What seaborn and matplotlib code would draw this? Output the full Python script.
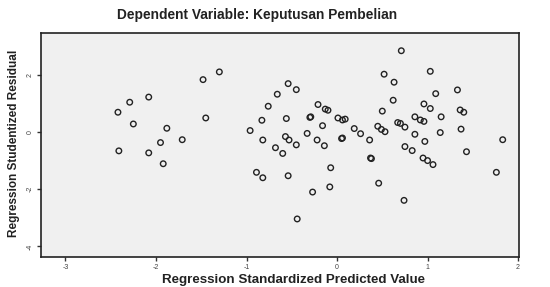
import matplotlib
matplotlib.use("Agg")
import matplotlib.pyplot as plt
import seaborn as sns
import pandas as pd

title = "Dependent Variable: Keputusan Pembelian"
xlabel = "Regression Standardized Predicted Value"
ylabel = "Regression Studentized Residual"
xticks = [-3, -2, -1, 0, 1, 2]
yticks = [2, 0, -2, -4]

pred = [-2.42, -2.29, -2.08, -2.25, -2.41, -2.08, -1.95, -1.88, -1.92, -1.71,
        -1.48, -1.30, -1.45, -0.96, -0.89, -0.82, -0.82, -0.83, -0.76, -0.66,
        -0.54, -0.45, -0.56, -0.57, -0.53, -0.45, -0.68, -0.60, -0.54, -0.44,
        -0.21, -0.10, -0.30, -0.29, -0.16, -0.33, -0.22, -0.14, -0.07, -0.08,
        -0.27, 0.01, 0.06, 0.05, 0.06, 0.19, 0.26, 0.36, 0.37, 0.38,
        0.46, 0.50, 0.45, 0.49, 0.53, 0.52, 0.63, 0.62, 0.71, 0.67,
        0.75, 0.75, 0.83, 0.74, 0.86, 0.86, 0.92, 0.96, 0.96, 1.03,
        0.97, 0.95, 1.00, 1.06, 1.03, 1.09, 1.15, 1.14, 1.33, 1.36,
        1.40, 1.37, 1.43, 1.83, 1.76, -0.13, 0.09, 0.70]
resid = [0.69, 1.04, 1.22, 0.28, -0.66, -0.73, -0.37, 0.13, -1.11, -0.27,
         1.83, 2.10, 0.49, 0.05, -1.41, -1.60, -0.28, 0.41, 0.90, 1.32,
         1.69, 1.48, 0.47, -0.16, -0.28, -0.45, -0.55, -0.75, -1.53, -3.04,
         0.96, 0.76, 0.51, 0.53, 0.22, -0.05, -0.28, -0.48, -1.25, -1.92,
         -2.10, 0.49, 0.42, -0.23, -0.21, 0.12, -0.06, -0.28, -0.91, -0.93,
         -1.79, 0.73, 0.20, 0.09, 0.01, 2.02, 1.74, 1.11, 2.84, 0.33,
         0.17, -0.51, -0.65, -2.39, -0.08, 0.53, 0.42, 0.37, 0.98, 0.82,
         -0.33, -0.91, -1.00, -1.14, 2.12, 1.34, 0.53, -0.02, 1.47, 0.77,
         0.69, 0.10, -0.69, -0.27, -1.41, 0.80, 0.45, 0.30]

df = pd.DataFrame({"pred": pred, "resid": resid})

sns.set_style("ticks", {"axes.facecolor": "#f0f0f0", "axes.edgecolor": "#222222"})
plt.rcParams["font.family"] = ["Liberation Sans", "DejaVu Sans"]
plt.rcParams["axes.unicode_minus"] = False

fig = plt.figure(figsize=(5.5, 2.87), dpi=100)
ax = fig.add_axes([41/550, 1-257/287, (519-41)/550, (257-33)/287])

sns.scatterplot(data=df, x="pred", y="resid", ax=ax, marker="o",
                s=16, facecolor="none", edgecolor="#222222", linewidth=1.0)

ax.set_xlim(-3.27, 2.01)
ax.set_ylim(-4.37, 3.46)
ax.set_xticks(xticks)
ax.set_xticklabels([str(t) for t in xticks], fontsize=5, color="#444444")
ax.set_yticks(yticks)
ax.set_yticklabels([str(t) for t in yticks], fontsize=5, color="#444444", rotation=90, va="center")
ax.tick_params(axis="both", length=3, width=1, color="#333333", pad=2)
for sp in ax.spines.values():
    sp.set_linewidth(1.2)
ax.set_xlabel("")
ax.set_ylabel("")

fig.text(257/550, 1-15/287, title, ha="center", va="center", fontsize=9.9,
         fontweight="bold", color="#222222")
fig.text(293/550, 1/287, xlabel, ha="center", va="bottom", fontsize=9.6,
         fontweight="bold", color="#222222")
fig.text(14/550, 1-143/287, ylabel, ha="center", va="center", fontsize=8.5,
         fontweight="bold", color="#222222", rotation=90)

fig.savefig("out.png", dpi=100)
